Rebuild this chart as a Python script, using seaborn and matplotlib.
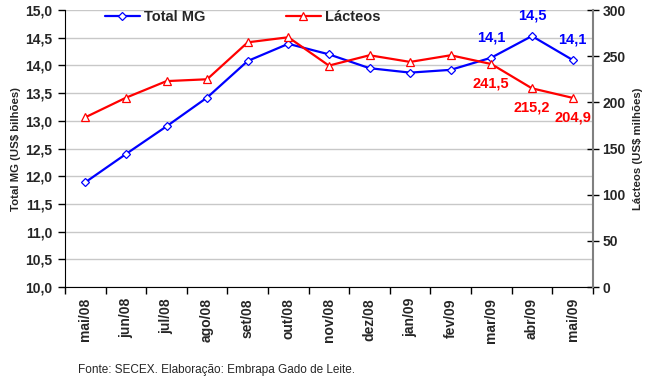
import pandas as pd
import matplotlib.pyplot as plt
import seaborn as sns
from matplotlib.ticker import MultipleLocator, FixedLocator

months = ["mai/08", "jun/08", "jul/08", "ago/08", "set/08", "out/08", "nov/08",
          "dez/08", "jan/09", "fev/09", "mar/09", "abr/09", "mai/09"]
total_mg = [11.89, 12.40, 12.90, 13.42, 14.08, 14.39, 14.20,
            13.95, 13.87, 13.92, 14.14, 14.53, 14.10]
lacteos = [183.8, 205.0, 223.0, 225.0, 265.0, 270.5, 239.8,
           251.0, 243.8, 251.0, 241.5, 215.2, 204.9]
mg_labels = {10: "14,1", 11: "14,5", 12: "14,1"}
lac_labels = {10: "241,5", 11: "215,2", 12: "204,9"}

df = pd.DataFrame({"mes": months, "total_mg": total_mg, "lacteos": lacteos})

BLUE = "#0000FF"
RED = "#FF0000"

sns.set_style("white")
plt.rcParams["font.family"] = ["Liberation Sans", "DejaVu Sans"]

fig = plt.figure(figsize=(6.5, 3.81), dpi=100)
ax = fig.add_axes([0.1, 0.2467, 0.812, 0.727])
ax2 = ax.twinx()

# ── Lines ─────────────────────────────────────────────
sns.lineplot(data=df, x="mes", y="total_mg", sort=False, color=BLUE, lw=1.6,
             marker="D", markersize=4.5, markerfacecolor="white",
             markeredgecolor=BLUE, markeredgewidth=0.9, label="Total MG",
             legend=False, ax=ax)
sns.lineplot(data=df, x="mes", y="lacteos", sort=False, color=RED, lw=1.6,
             marker="^", markersize=6, markerfacecolor="white",
             markeredgecolor=RED, markeredgewidth=0.9, label="Lácteos",
             legend=False, ax=ax2)

# ── Axes ──────────────────────────────────────────────
ax.set_xlim(-0.5, len(months) - 0.5)
ax.set_ylim(10, 15)
ax2.set_ylim(0, 300)
ax.yaxis.set_major_locator(MultipleLocator(0.5))
ax2.yaxis.set_major_locator(MultipleLocator(50))
ax.set_yticklabels([f"{v:.1f}".replace(".", ",") for v in ax.get_yticks()])

ax.grid(axis="y", color="#C8C8C8", lw=1)
ax.set_axisbelow(True)

ax.xaxis.set_minor_locator(FixedLocator([i - 0.5 for i in range(len(months) + 1)]))
ax.tick_params(axis="x", which="major", length=0, pad=8, rotation=90,
               labelsize=10)
ax.tick_params(axis="x", which="minor", length=5, width=1, color="black",
               direction="out", bottom=True)
ax.tick_params(axis="y", length=5, width=1, color="black", direction="out",
               left=True, labelsize=10, pad=4)
ax2.tick_params(axis="y", length=8, width=1, color="black", direction="inout",
                right=True, labelsize=10, pad=3)
for lab in ax.get_xticklabels() + ax.get_yticklabels() + ax2.get_yticklabels():
    lab.set_fontweight("bold")

for a in (ax, ax2):
    a.spines["top"].set_visible(False)
ax.spines["left"].set_color("black")
ax.spines["bottom"].set_color("black")
ax2.spines["right"].set_color("#808080")
ax2.spines["right"].set_linewidth(1.5)
ax2.spines["left"].set_visible(False)
ax2.spines["bottom"].set_visible(False)
ax.spines["right"].set_visible(False)

ax.set_xlabel("")
ax.set_ylabel("Total MG (US$ bilhões)", fontsize=8.2, fontweight="bold", labelpad=3)
ax2.set_ylabel("Lácteos (US$ milhões)", fontsize=8.2, fontweight="bold", labelpad=5)

# ── Data labels ───────────────────────────────────────
for i, txt in mg_labels.items():
    ax.annotate(txt, (i, total_mg[i]), xytext=(0, 14.5), textcoords="offset points",
                ha="center", va="center", color=BLUE, fontsize=10.5, fontweight="bold")
for i, txt in lac_labels.items():
    ax2.annotate(txt, (i, lacteos[i]), xytext=(0, -14), textcoords="offset points",
                 ha="center", va="center", color=RED, fontsize=10.5, fontweight="bold")

# ── Legend ────────────────────────────────────────────
h1, l1 = ax.get_legend_handles_labels()
h2, l2 = ax2.get_legend_handles_labels()
leg = ax2.legend(h1 + h2, l1 + l2, ncol=2, frameon=False, loc="upper left",
                 bbox_to_anchor=(0.075, 1.0), borderaxespad=0, borderpad=0,
                 handlelength=2.4, handletextpad=0.3, columnspacing=5.5,
                 prop={"size": 10.5, "weight": "bold"})

fig.text(0.12, 0.03, "Fonte: SECEX. Elaboração: Embrapa Gado de Leite.",
         fontsize=8.5, ha="left", va="center")

fig.savefig("out.png", dpi=100)
